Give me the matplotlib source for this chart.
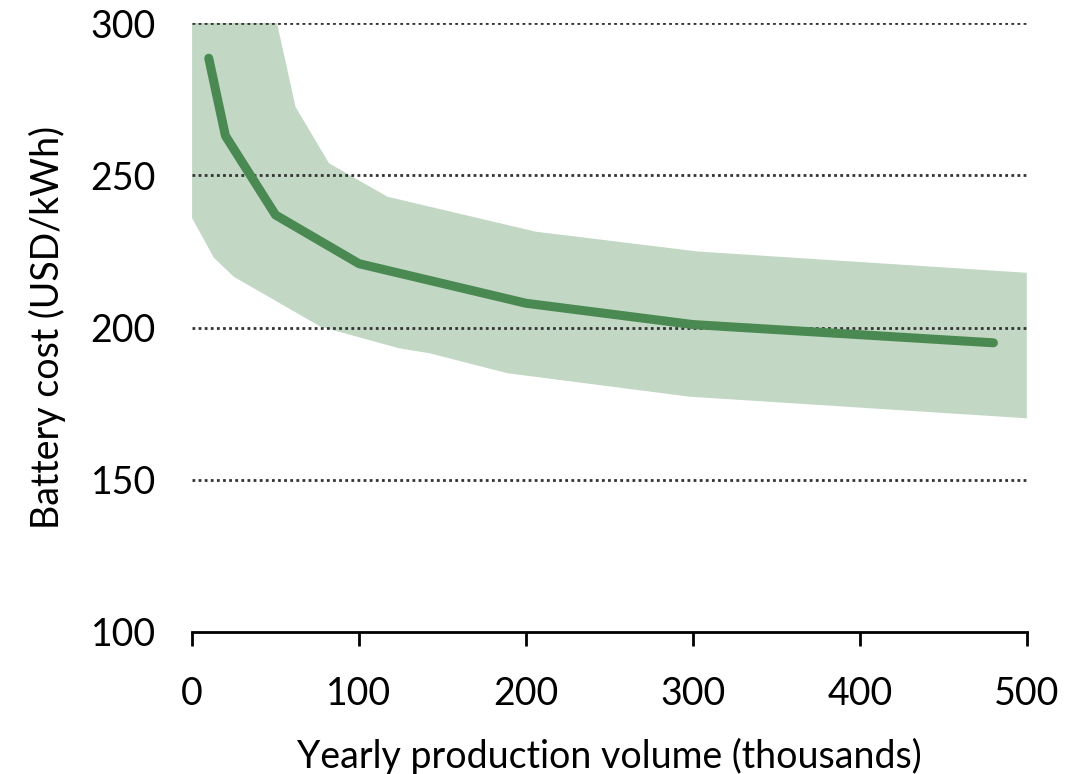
import matplotlib.pyplot as plt

plt.rcParams['font.family'] = ['Lato', 'DejaVu Sans']

# central estimate of battery cost
volume = [10, 20, 50, 100, 200, 300, 480]
cost = [288.5, 263, 237, 221, 208, 201, 195]

# uncertainty band edges
upper_x = [0, 40, 62, 82, 117, 206, 303, 500]
upper_y = [360, 327, 272.5, 254, 243, 231.5, 225, 218]
lower_x = [0, 13, 25, 77, 124, 142, 189, 298, 500]
lower_y = [236, 223, 216.7, 200.3, 193.2, 191.6, 185, 177.3, 170.2]

xticks = [0, 100, 200, 300, 400, 500]
yticks = [100, 150, 200, 250, 300]

fig = plt.figure(figsize=(10.82, 7.74), dpi=100)
ax = fig.add_axes([0.1775, 0.1835, 0.7715, 0.7865])

# band polygon: upper edge left->right, lower edge right->left
poly_x = upper_x + lower_x[::-1]
poly_y = upper_y + lower_y[::-1]
ax.fill(poly_x, poly_y, color='#c2d8c5', lw=0, zorder=1)

# dotted gridlines sit on top of the band
for y in yticks[1:]:
    ax.axhline(y, color='#333333', ls=(0, (1, 1.2)), lw=2.0, zorder=2)

ax.plot(volume, cost, color='#4a8a52', lw=6.5, solid_capstyle='round',
        solid_joinstyle='round', zorder=3)

ax.set_xlim(0, 500)
ax.set_ylim(100, 300)
ax.set_xticks(xticks)
ax.set_yticks(yticks)

for s in ['top', 'right', 'left']:
    ax.spines[s].set_visible(False)
ax.spines['bottom'].set_linewidth(2)
ax.spines['bottom'].set_color('black')
ax.tick_params(axis='x', length=10, width=2, labelsize=27, pad=22)
ax.tick_params(axis='y', length=0, labelsize=27, pad=26)

ax.set_xlabel('Yearly production volume (thousands)', fontsize=27, labelpad=18)
ax.set_ylabel('Battery cost (USD/kWh)', fontsize=27, labelpad=18)

fig.savefig('out.png', dpi=100)
